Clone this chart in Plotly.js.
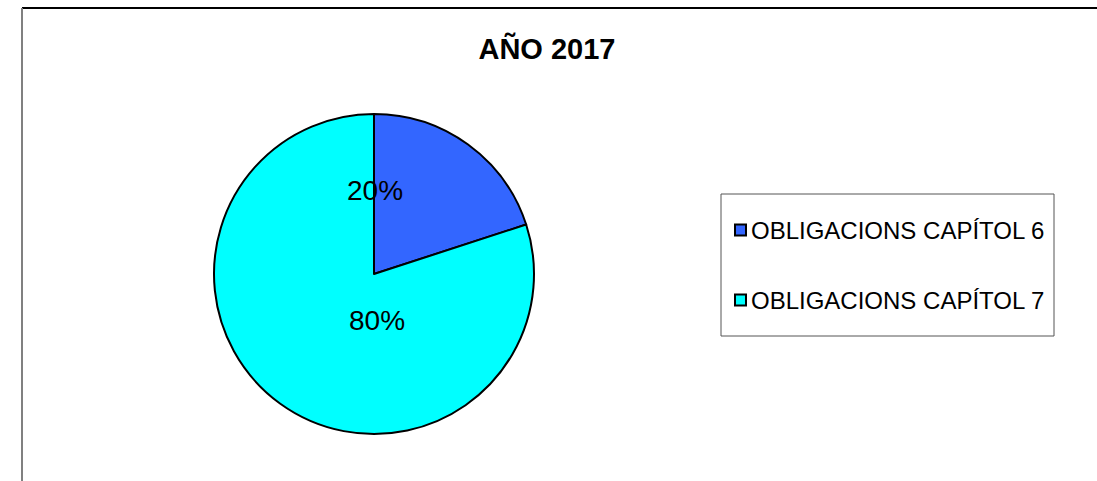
<!DOCTYPE html>
<html>
<head>
<meta charset="utf-8">
<script src="https://cdn.plot.ly/plotly-3.0.1.min.js"></script>
<style>html,body{margin:0;padding:0;background:#fff;}#chart{width:1097px;height:481px;}</style>
</head>
<body>
<div id="chart"></div>
<script>
var categories = ["OBLIGACIONS CAPÍTOL 6", "OBLIGACIONS CAPÍTOL 7"];
var values = [20, 80];
var colors = ["#3366FF", "#00FFFF"];
var chartTitle = "AÑO 2017";

var W = 1097, H = 481;
function px(x){ return x / W; }
function py(y){ return 1 - y / H; }

var total = values.reduce(function(a,b){return a+b;}, 0);
var pctText = values.map(function(v){ return Math.round(v / total * 100) + "%"; });

var trace = {
  type: "pie",
  labels: categories,
  values: values,
  sort: false,
  direction: "clockwise",
  rotation: 0,
  marker: { colors: colors, line: { color: "#000000", width: 2 } },
  textinfo: "none",
  hoverinfo: "label+percent",
  showlegend: false,
  domain: { x: [px(214), px(534)], y: [py(434), py(114)] }
};

var labelPos = [[375, 190], [377, 320]];
var annotations = [];
pctText.forEach(function(t, i){
  annotations.push({
    x: px(labelPos[i][0]), y: py(labelPos[i][1]), xref: "paper", yref: "paper",
    text: t, showarrow: false, xanchor: "center", yanchor: "middle",
    font: { family: "Liberation Sans, Arial, sans-serif", size: 28, color: "#000" }
  });
});

var shapes = [
  { type: "line", xref: "paper", yref: "paper", x0: px(22), x1: 1, y0: py(8), y1: py(8), line: { color: "#000", width: 2 } },
  { type: "line", xref: "paper", yref: "paper", x0: px(22), x1: px(22), y0: 0, y1: py(8), line: { color: "#808080", width: 2 } },
  { type: "rect", xref: "paper", yref: "paper", x0: px(721), x1: px(1054), y0: py(336), y1: py(194), line: { color: "#555", width: 1 }, fillcolor: "rgba(0,0,0,0)" }
];

var rowY = [230, 300];
categories.forEach(function(c, i){
  shapes.push({ type: "rect", xref: "paper", yref: "paper",
    x0: px(735), x1: px(746), y0: py(rowY[i] + 5.5), y1: py(rowY[i] - 5.5),
    fillcolor: colors[i], line: { color: "#000", width: 2 } });
  annotations.push({
    x: px(749), y: py(rowY[i]), xref: "paper", yref: "paper",
    text: c, showarrow: false, xanchor: "left", yanchor: "middle",
    font: { family: "Liberation Sans, Arial, sans-serif", size: 24, color: "#000" }
  });
});

var layout = {
  width: W, height: H,
  margin: { l: 0, r: 0, t: 0, b: 0 },
  paper_bgcolor: "#ffffff",
  plot_bgcolor: "#ffffff",
  showlegend: false,
  title: {
    text: "<b>" + chartTitle + "</b>",
    x: px(547), xanchor: "center", y: py(49), yanchor: "middle",
    font: { family: "Liberation Sans, Arial, sans-serif", size: 29, color: "#000" }
  },
  shapes: shapes,
  annotations: annotations
};

Plotly.newPlot("chart", [trace], layout, { displayModeBar: false, staticPlot: true });
</script>
</body>
</html>
